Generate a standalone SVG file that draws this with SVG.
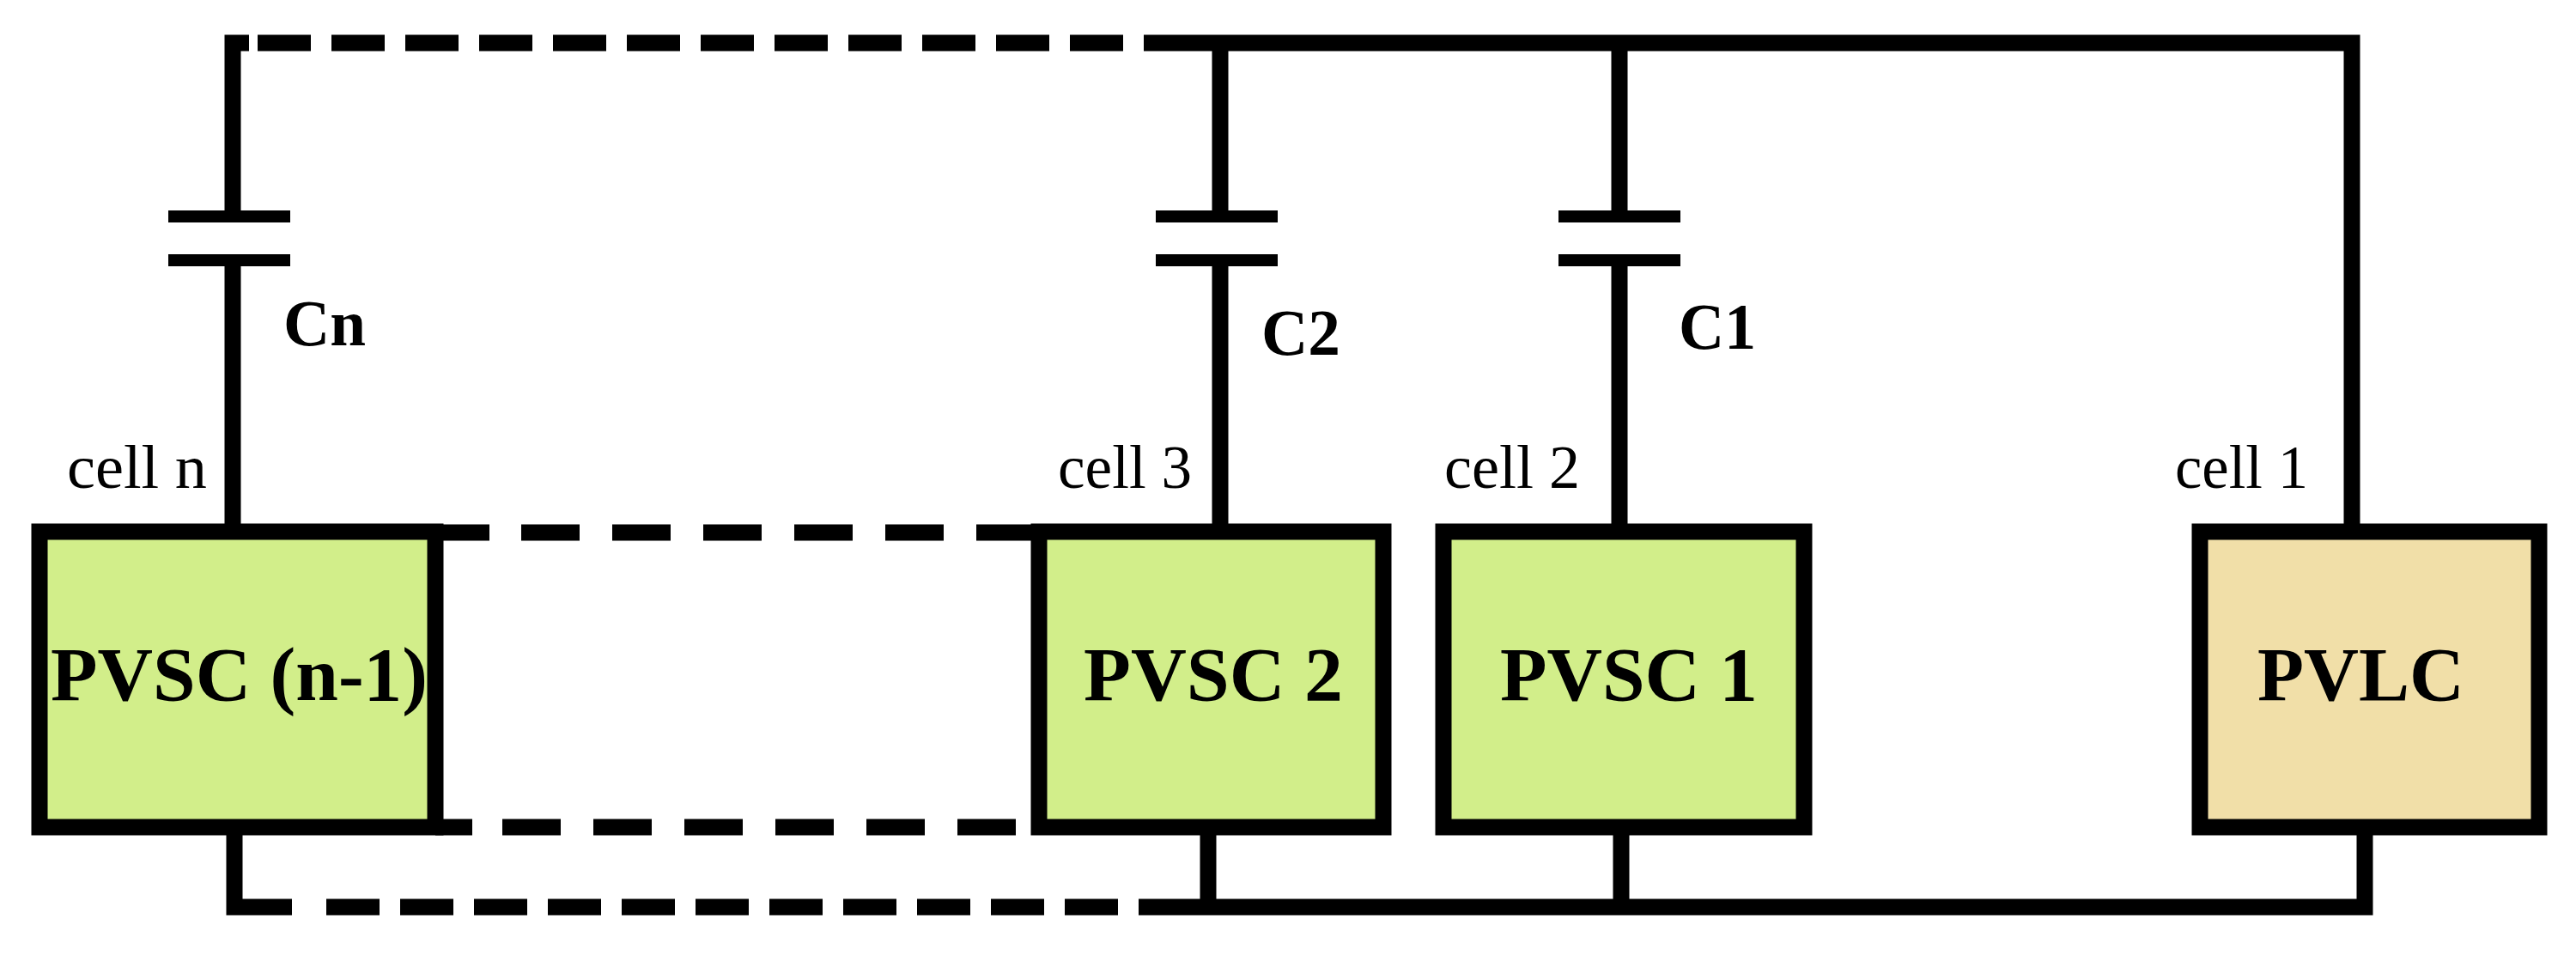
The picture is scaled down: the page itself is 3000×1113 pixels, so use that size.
<svg xmlns="http://www.w3.org/2000/svg" width="3000" height="1113" viewBox="0 0 3000 1113">
<style>
.w{stroke:#000;stroke-width:19;fill:none}
.d1{stroke-dasharray:62 24}
.d2{stroke-dasharray:68 38}
.p{stroke:#000;stroke-width:14}
.box{stroke:#000;stroke-width:19}
.lbl{font-family:"Liberation Serif",serif;font-size:72px;fill:#000}
.cap{font-family:"Liberation Serif",serif;font-size:76px;font-weight:bold;fill:#000}
.big{font-family:"Liberation Serif",serif;font-size:88px;font-weight:bold;fill:#000}
</style>
<g id="connectors">
<path class="w" d="M271 612 V303 M271 252 V50 H290"/>
<path class="w d1" d="M300 50 H1345"/>
<path class="w" d="M1345 50 H2739 V612"/>
<path class="w" d="M1421 50 V252 M1421 303 V612"/>
<path class="w" d="M1886 50 V252 M1886 303 V612"/>
<line class="p" x1="196" y1="252" x2="338" y2="252"/><line class="p" x1="196" y1="303" x2="338" y2="303"/>
<line class="p" x1="1346" y1="252" x2="1488" y2="252"/><line class="p" x1="1346" y1="303" x2="1488" y2="303"/>
<line class="p" x1="1815" y1="252" x2="1957" y2="252"/><line class="p" x1="1815" y1="303" x2="1957" y2="303"/>
<path class="w" d="M507 620 H570"/>
<path class="w d2" d="M607 620 H1210"/>
<path class="w" d="M507 963 H550"/>
<path class="w d2" d="M585 963 H1210"/>
<path class="w" d="M273 970 V1056 H340"/>
<path class="w d1" d="M380 1056 H1368"/>
<path class="w" d="M1368 1056 H2754 V970 M1407 970 V1056 M1888 970 V1056"/>
</g>
<g id="pvsc_n1"><rect class="box" x="46" y="619" width="461" height="344" fill="#d2ee8a"/><text class="big" x="59" y="815" textLength="439" lengthAdjust="spacingAndGlyphs">PVSC (n-1)</text></g>
<g id="pvsc2"><rect class="box" x="1210" y="619" width="401" height="344" fill="#d2ee8a"/><text class="big" x="1262" y="815" textLength="302" lengthAdjust="spacingAndGlyphs">PVSC 2</text></g>
<g id="pvsc1"><rect class="box" x="1681" y="619" width="420" height="344" fill="#d2ee8a"/><text class="big" x="1747" y="815" textLength="300" lengthAdjust="spacingAndGlyphs">PVSC 1</text></g>
<g id="pvlc"><rect class="box" x="2562" y="619" width="395" height="344" fill="#f1dfa8"/><text class="big" x="2629" y="815" textLength="241" lengthAdjust="spacingAndGlyphs">PVLC</text></g>
<g id="labels">
<text class="cap" x="330" y="402" textLength="96" lengthAdjust="spacingAndGlyphs">Cn</text>
<text class="cap" x="1469" y="413" textLength="92" lengthAdjust="spacingAndGlyphs">C2</text>
<text class="cap" x="1955" y="406" textLength="90" lengthAdjust="spacingAndGlyphs">C1</text>
<text class="lbl" x="78" y="568" textLength="163" lengthAdjust="spacingAndGlyphs">cell n</text>
<text class="lbl" x="1232" y="568" textLength="156" lengthAdjust="spacingAndGlyphs">cell 3</text>
<text class="lbl" x="1682" y="568" textLength="158" lengthAdjust="spacingAndGlyphs">cell 2</text>
<text class="lbl" x="2533" y="568" textLength="155" lengthAdjust="spacingAndGlyphs">cell 1</text>
</g>
</svg>
